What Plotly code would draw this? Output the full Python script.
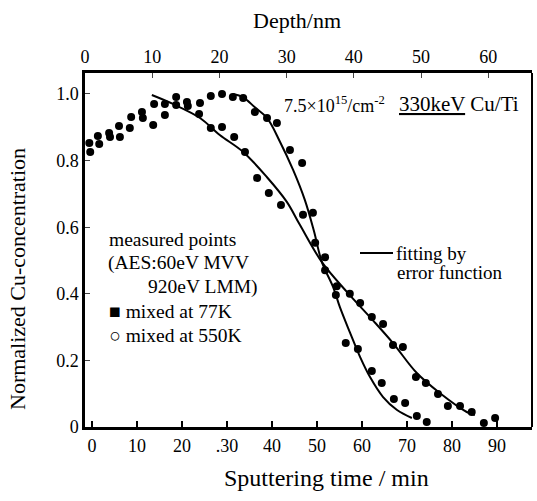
import plotly.graph_objects as go

# ---- data ----
time_77K = [-0.6, 1.3, 3.8, 6.0, 8.7, 11.1, 13.8, 16.2, 18.7, 21.1, 24.0, 26.4, 28.9, 31.3,
            33.6, 36.2, 38.9, 41.1, 44.0, 46.7, 49.1, 51.8, 54.2, 56.4, 59.1, 62.2, 64.4,
            67.1, 69.6, 72.2, 74.4]
conc_77K = [0.853, 0.874, 0.883, 0.904, 0.931, 0.946, 0.97, 0.97, 0.991, 0.976, 0.973, 0.994,
            1.0, 0.991, 0.988, 0.946, 0.928, 0.913, 0.832, 0.793, 0.643, 0.471, 0.396, 0.252,
            0.234, 0.168, 0.132, 0.084, 0.072, 0.033, 0.015]

time_550K = [-0.4, 1.6, 4.0, 6.2, 8.4, 11.3, 13.6, 16.2, 18.7, 21.3, 23.8, 26.4, 28.9, 31.6,
             34.0, 36.7, 39.3, 42.0, 46.9, 49.6, 51.8, 54.4, 57.3, 59.6, 62.2, 64.7, 66.9,
             69.1, 72.0, 74.2, 76.9, 79.1, 81.8, 84.4, 87.1, 89.6]
conc_550K = [0.826, 0.85, 0.871, 0.871, 0.898, 0.928, 0.907, 0.937, 0.967, 0.964, 0.94, 0.898,
             0.901, 0.871, 0.826, 0.748, 0.703, 0.667, 0.637, 0.553, 0.51, 0.423, 0.4, 0.372,
             0.33, 0.309, 0.246, 0.24, 0.15, 0.132, 0.099, 0.063, 0.063, 0.045, 0.012, 0.027]

fit_steep_time = [31.3, 33.6, 36.2, 38.9, 41.8, 44.7, 47.3, 49.3, 51.1, 53.6, 55.1, 57.3,
                  59.6, 61.8, 64.7, 67.8, 71.1]
fit_steep_conc = [1.0, 0.99, 0.96, 0.928, 0.856, 0.772, 0.682, 0.59, 0.495, 0.42, 0.36, 0.285,
                  0.21, 0.15, 0.09, 0.051, 0.027]

fit_shallow_time = [13.3, 18.0, 24.0, 28.4, 33.6, 38.9, 43.3, 46.2, 51.1, 56.7, 62.4, 66.9,
                    72.2, 77.3, 83.3, 85.1]
fit_shallow_conc = [0.997, 0.97, 0.928, 0.877, 0.826, 0.75, 0.676, 0.607, 0.495, 0.405, 0.321,
                    0.252, 0.162, 0.102, 0.045, 0.036]

time_ticks = [0, 10, 20, 30, 40, 50, 60, 70, 80, 90]
time_tick_labels = ["0", "10", "20", ".30", "40", "50", "60", "70", "80", "90"]
depth_ticks = [0, 10, 20, 30, 40, 50, 60]
depth_tick_labels = ["0", "10", "20", "30", "40", "50", "60"]
conc_ticks = [0, 0.2, 0.4, 0.6, 0.8, 1.0]
conc_tick_labels = ["0", "0.2", "0.4", "0.6", "0.8", "1.0"]

# ---- layout geometry ----
W, H = 537, 501
ML, MR, MT, MB = 85, 5, 73, 74
PW = W - ML - MR
PH = H - MT - MB
FONT = "Liberation Serif, Times New Roman, serif"


def px(x):
    return (x - ML) / PW


def py(y):
    return (H - MB - y) / PH


fig = go.Figure()

marker = dict(color="black", size=8, symbol="circle")
fig.add_trace(go.Scatter(x=time_77K, y=conc_77K, mode="markers", marker=marker,
                         name="mixed at 77K", cliponaxis=False))
fig.add_trace(go.Scatter(x=time_550K, y=conc_550K, mode="markers", marker=marker,
                         name="mixed at 550K", cliponaxis=False))
fig.add_trace(go.Scatter(x=fit_steep_time, y=fit_steep_conc, mode="lines",
                         line=dict(color="black", width=2, shape="spline"),
                         name="fit 77K"))
fig.add_trace(go.Scatter(x=fit_shallow_time, y=fit_shallow_conc, mode="lines",
                         line=dict(color="black", width=2, shape="spline"),
                         name="fit 550K"))
# depth axis carrier (no visible marks) so the top axis is built
fig.add_trace(go.Scatter(x=depth_ticks, y=[None] * len(depth_ticks), xaxis="x2", yaxis="y",
                         mode="lines", hoverinfo="skip", name="depth"))

tickfont = dict(family=FONT, size=18, color="black")

fig.update_layout(
    width=W, height=H,
    margin=dict(l=ML, r=MR, t=MT, b=MB),
    paper_bgcolor="white", plot_bgcolor="white",
    showlegend=False,
    font=dict(family=FONT, color="black"),
    xaxis=dict(range=[-1.56, 97.8], anchor="y",
               tickvals=time_ticks, ticktext=time_tick_labels,
               ticks="inside", ticklen=6, tickwidth=2, tickcolor="black",
               showline=True, linewidth=3, linecolor="black",
               showgrid=False, zeroline=False, tickfont=tickfont),
    xaxis2=dict(overlaying="x", range=[0, 66.5], anchor="y", side="top",
                tickvals=depth_ticks, ticktext=depth_tick_labels,
                ticks="inside",
                showline=True, linewidth=2.5, linecolor="black",
                showgrid=False, zeroline=False, tickfont=tickfont),
    yaxis=dict(range=[0, 1.063], anchor="x",
               tickvals=conc_ticks, ticktext=conc_tick_labels,
               ticks="inside",
               showline=True, linewidth=2.5, linecolor="black",
               showgrid=False, zeroline=False, tickfont=tickfont),
)

# right frame line
fig.add_shape(type="line", xref="paper", yref="paper", x0=1, x1=1, y0=0, y1=1,
              line=dict(color="black", width=2))
# legend sample line for the fit
fig.add_shape(type="line", xref="paper", yref="paper", x0=px(360), x1=px(393),
              y0=py(253), y1=py(253), line=dict(color="black", width=2))


def note(text, x, y, size=19.5, xanchor="left", angle=0):
    fig.add_annotation(text=text, xref="paper", yref="paper", x=px(x), y=py(y),
                       xanchor=xanchor, yanchor="middle", showarrow=False,
                       textangle=angle,
                       font=dict(family=FONT, size=size, color="black"))


note("7.5×10<sup>15</sup>/cm<sup>-2</sup>", 282, 104, size=18)
note("<u>330keV</u> Cu/Ti", 397, 104, size=21)
note("measured points", 107, 239)
note("(AES:60eV MVV", 106, 263)
note("920eV LMM)", 146, 287)
note("■ mixed at 77K", 107, 311)
note("○ mixed at 550K", 107, 335)
note("fitting by", 394, 253, size=19)
note("error function", 395, 272, size=19)

# axis titles
note("Depth/nm", 297, 20, size=22, xanchor="center")
note("Sputtering time / min", 326, 478, size=24, xanchor="center")
note("Normalized Cu-concentration", 17, 279, size=22, xanchor="center", angle=-90)

fig.write_html("out.html", post_script="document.body.style.margin='0';",
               config={"displayModeBar": False})
